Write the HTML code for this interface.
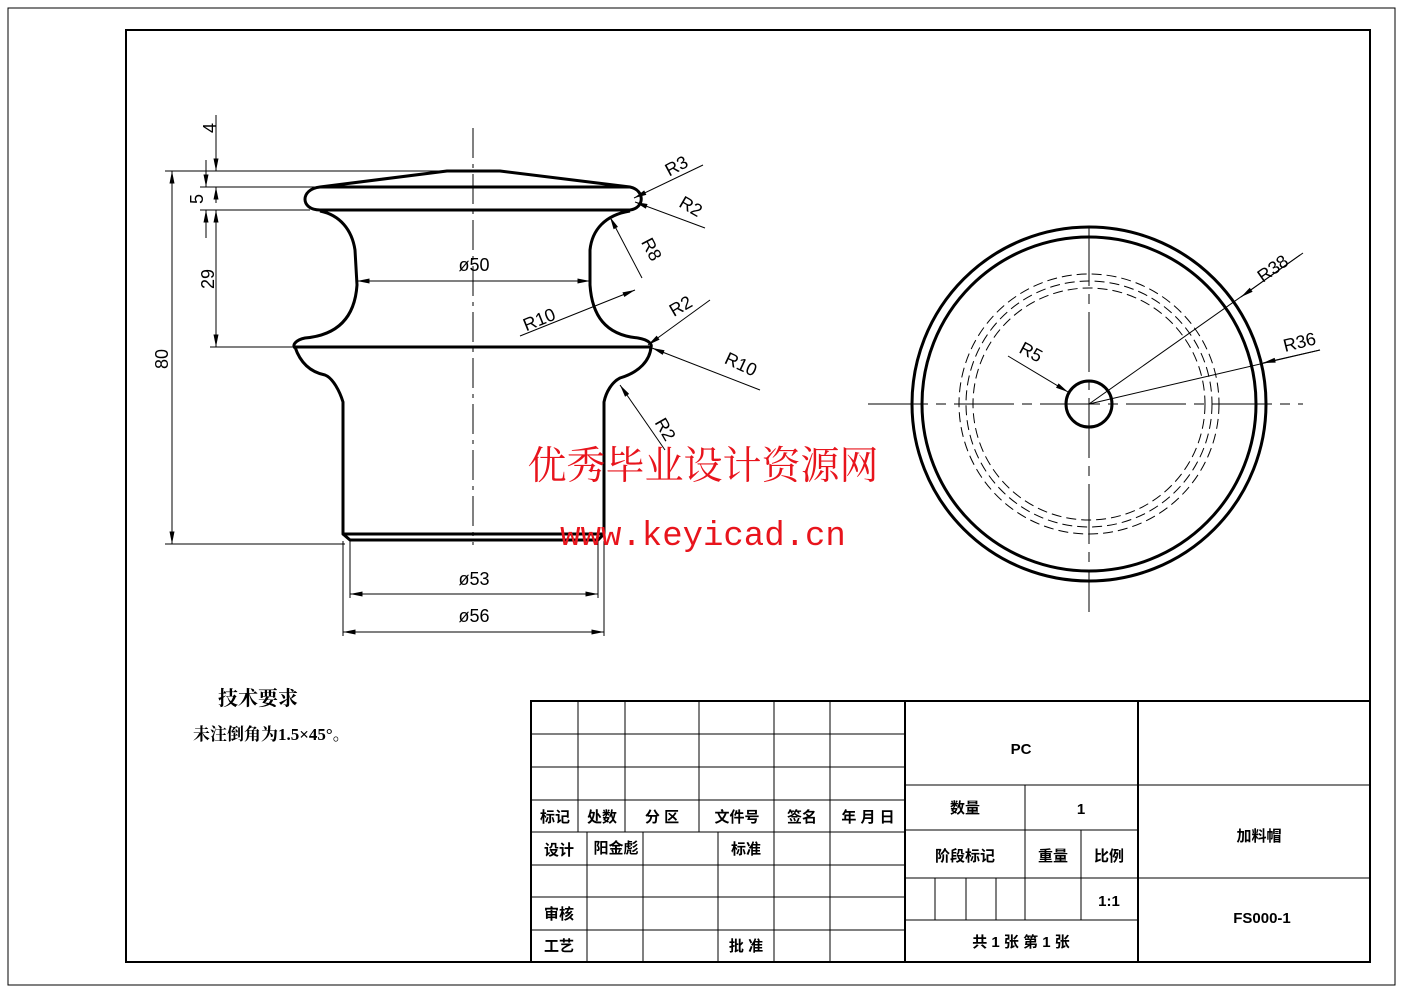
<!DOCTYPE html>
<html><head><meta charset="utf-8"><style>
html,body{margin:0;padding:0;background:#fff;}
svg{display:block;}
text{font-family:"Liberation Sans","Noto Sans CJK SC",sans-serif;}
.cn{font-family:"Liberation Serif","Noto Serif CJK SC","Noto Sans CJK SC",serif;font-weight:bold;}
</style></head><body>
<svg width="1403" height="992" viewBox="0 0 1403 992" xmlns="http://www.w3.org/2000/svg">
<defs>
<marker id="a" viewBox="0 0 10 4" refX="10" refY="2" markerWidth="14" markerHeight="5" orient="auto-start-reverse" markerUnits="userSpaceOnUse"><path d="M0,0L10,2L0,4z" fill="#000"/></marker>
</defs>
<rect x="8" y="8" width="1387" height="977" fill="none" stroke="#000" stroke-width="1"/>
<rect x="126" y="30" width="1244" height="932" fill="none" stroke="#000" stroke-width="2"/>

<g fill="none" stroke="#000" stroke-width="3" stroke-linejoin="round">
<path d="M320,187 L447,171 L500,171 L630,187"/>
<path d="M320,187 L630,187 C645,190 645,208 630,210 L320,210 C300,210 300,189 320,187 Z"/>
<path d="M320,211 C340,215 352,230 355,250 L357,285 C355,315 340,335 305,338 C295,340 292,346 295,347"/>
<path d="M630,211 C605,215 592,230 590,250 L590,285 C592,315 605,335 638,338 C650,340 652,345 651,347"/>
<path d="M293,347 L652,347"/>
<path d="M295,347 C300,362 310,372 325,375 C333,378 340,392 343,402 L343,534 L604,534 L604,402 C606,392 612,382 620,378 C640,372 650,360 651,347"/>
<path d="M343,534 L350,540 L598,540 L604,534"/>
</g>
<g stroke="#000" stroke-width="1" fill="none">
<line x1="473" y1="128" x2="473" y2="545" stroke-dasharray="30,6,4,6"/>
<line x1="165" y1="171" x2="470" y2="171"/>
<line x1="200" y1="187" x2="320" y2="187"/>
<line x1="200" y1="210" x2="310" y2="210"/>
<line x1="210" y1="347" x2="293" y2="347"/>
<line x1="165" y1="544" x2="345" y2="544"/>
<line x1="172" y1="171" x2="172" y2="544" marker-start="url(#a)" marker-end="url(#a)"/>
<line x1="216" y1="115" x2="216" y2="171" marker-end="url(#a)"/>
<line x1="216" y1="187" x2="216" y2="203" marker-start="url(#a)"/>
<line x1="216" y1="210" x2="216" y2="347" marker-start="url(#a)" marker-end="url(#a)"/>
<line x1="206" y1="160" x2="206" y2="187" marker-end="url(#a)"/>
<line x1="206" y1="210" x2="206" y2="238" marker-start="url(#a)"/>
<line x1="357" y1="281" x2="590" y2="281" marker-start="url(#a)" marker-end="url(#a)"/>
<line x1="350" y1="541" x2="350" y2="598"/>
<line x1="598" y1="541" x2="598" y2="598"/>
<line x1="343" y1="541" x2="343" y2="636"/>
<line x1="604" y1="541" x2="604" y2="636"/>
<line x1="350" y1="594" x2="598" y2="594" marker-start="url(#a)" marker-end="url(#a)"/>
<line x1="343" y1="632" x2="604" y2="632" marker-start="url(#a)" marker-end="url(#a)"/>
<line x1="703" y1="165" x2="634" y2="198" marker-end="url(#a)"/>
<line x1="705" y1="228" x2="635" y2="202" marker-end="url(#a)"/>
<line x1="642" y1="278" x2="610" y2="217" marker-end="url(#a)"/>
<line x1="520" y1="336" x2="635" y2="290" marker-end="url(#a)"/>
<line x1="710" y1="300" x2="648" y2="345" marker-end="url(#a)"/>
<line x1="760" y1="390" x2="652" y2="348" marker-end="url(#a)"/>
<line x1="665" y1="450" x2="620" y2="385" marker-end="url(#a)"/>
</g>
<g font-size="18" fill="#000">
<text x="208" y="136" transform="rotate(-90 208 128)" text-anchor="middle">4</text>
<text x="197" y="205" transform="rotate(-90 197 199)" text-anchor="middle">5</text>
<text x="208" y="285" transform="rotate(-90 208 279)" text-anchor="middle">29</text>
<text x="162" y="365" transform="rotate(-90 162 359)" text-anchor="middle">80</text>
<text x="474" y="271" text-anchor="middle">ø50</text>
<text x="474" y="585" text-anchor="middle">ø53</text>
<text x="474" y="622" text-anchor="middle">ø56</text>
<text x="662" y="172" transform="rotate(-28 675 160)">R3</text>
<text x="680" y="212" transform="rotate(30 690 205)">R2</text>
<text x="636" y="250" transform="rotate(62 645 250)">R8</text>
<text x="522" y="326" transform="rotate(-22 538 318)">R10</text>
<text x="667" y="312" transform="rotate(-30 680 302)">R2</text>
<text x="724" y="370" transform="rotate(25 740 365)">R10</text>
<text x="651" y="432" transform="rotate(60 661 430)">R2</text>
</g>

<g fill="none" stroke="#000">
<line x1="868" y1="404" x2="1303" y2="404" stroke-width="1" stroke-dasharray="60,8,10,8"/>
<line x1="1089" y1="226" x2="1089" y2="612" stroke-width="1" stroke-dasharray="60,8,10,8"/>
<circle cx="1089" cy="404" r="177" stroke-width="3"/>
<circle cx="1089" cy="404" r="167" stroke-width="3"/>
<circle cx="1089" cy="404" r="130" stroke-width="1" stroke-dasharray="10,5"/>
<circle cx="1089" cy="404" r="123" stroke-width="1" stroke-dasharray="10,5"/>
<circle cx="1089" cy="404" r="116" stroke-width="1" stroke-dasharray="10,5"/>
<circle cx="1089" cy="404" r="23" stroke-width="3"/>
<line x1="1008" y1="356" x2="1068" y2="392" stroke-width="1" marker-end="url(#a)"/>
<line x1="1089" y1="404" x2="1303" y2="253" stroke-width="1"/>
<line x1="1300" y1="255" x2="1241" y2="297" stroke-width="1" marker-end="url(#a)"/>
<line x1="1089" y1="404" x2="1320" y2="350" stroke-width="1"/>
<line x1="1320" y1="350" x2="1263" y2="363" stroke-width="1" marker-end="url(#a)"/>
</g>
<g font-size="18" fill="#000">
<text x="1020" y="360" transform="rotate(28 1035 352)">R5</text>
<text x="1252" y="275" transform="rotate(-35 1270 262)">R38</text>
<text x="1282" y="348" transform="rotate(-14 1300 338)">R36</text>
</g>

<text x="703" y="479" text-anchor="middle" font-size="39" fill="#e8141c" style="font-family:'Noto Serif CJK SC','Noto Sans CJK SC',serif">优秀毕业设计资源网</text>
<text x="703" y="545" text-anchor="middle" font-size="34" fill="#e8141c" style="font-family:'Liberation Mono',monospace">www.keyicad.cn</text>

<text x="218" y="705" font-size="20" class="cn">技术要求</text>
<text x="193" y="740" font-size="17" class="cn">未注倒角为1.5×45°。</text>

<g stroke="#000" fill="none">
<rect x="531" y="701" width="839" height="261" stroke-width="2"/>
<line x1="905" y1="701" x2="905" y2="962" stroke-width="2"/>
<line x1="1138" y1="701" x2="1138" y2="962" stroke-width="2"/>
<g stroke-width="1">
<line x1="531" y1="734" x2="905" y2="734"/><line x1="531" y1="767" x2="905" y2="767"/>
<line x1="531" y1="800" x2="905" y2="800"/><line x1="531" y1="832" x2="905" y2="832"/>
<line x1="531" y1="865" x2="905" y2="865"/><line x1="531" y1="897" x2="905" y2="897"/>
<line x1="531" y1="930" x2="905" y2="930"/>
<line x1="578" y1="701" x2="578" y2="832"/><line x1="625" y1="701" x2="625" y2="832"/>
<line x1="699" y1="701" x2="699" y2="832"/><line x1="774" y1="701" x2="774" y2="962"/>
<line x1="830" y1="701" x2="830" y2="962"/>
<line x1="587" y1="832" x2="587" y2="962"/><line x1="643" y1="832" x2="643" y2="962"/>
<line x1="718" y1="832" x2="718" y2="962"/>
<line x1="905" y1="785" x2="1370" y2="785"/>
<line x1="905" y1="830" x2="1138" y2="830"/>
<line x1="905" y1="878" x2="1370" y2="878"/>
<line x1="905" y1="920" x2="1138" y2="920"/>
<line x1="1025" y1="785" x2="1025" y2="920"/>
<line x1="1081" y1="830" x2="1081" y2="920"/>
<line x1="935" y1="878" x2="935" y2="920"/><line x1="966" y1="878" x2="966" y2="920"/>
<line x1="996" y1="878" x2="996" y2="920"/>
</g>
</g>
<g font-size="15" fill="#000" class="cn" text-anchor="middle">
<text x="555" y="822">标记</text><text x="602" y="822">处数</text><text x="662" y="822">分 区</text>
<text x="737" y="822">文件号</text><text x="802" y="822">签名</text><text x="868" y="822">年 月 日</text>
<text x="559" y="855">设计</text><text x="616" y="853">阳金彪</text><text x="746" y="854">标准</text>
<text x="559" y="919">审核</text><text x="559" y="951">工艺</text><text x="746" y="951">批 准</text>
<text x="1021" y="754">PC</text>
<text x="965" y="813">数量</text><text x="1081" y="814">1</text>
<text x="965" y="861">阶段标记</text><text x="1053" y="861">重量</text><text x="1109" y="861">比例</text>
<text x="1109" y="906">1:1</text>
<text x="1021" y="947">共 1 张  第 1 张</text>
<text x="1259" y="841">加料帽</text>
<text x="1262" y="923">FS000-1</text>
</g>
</svg>
</body></html>
